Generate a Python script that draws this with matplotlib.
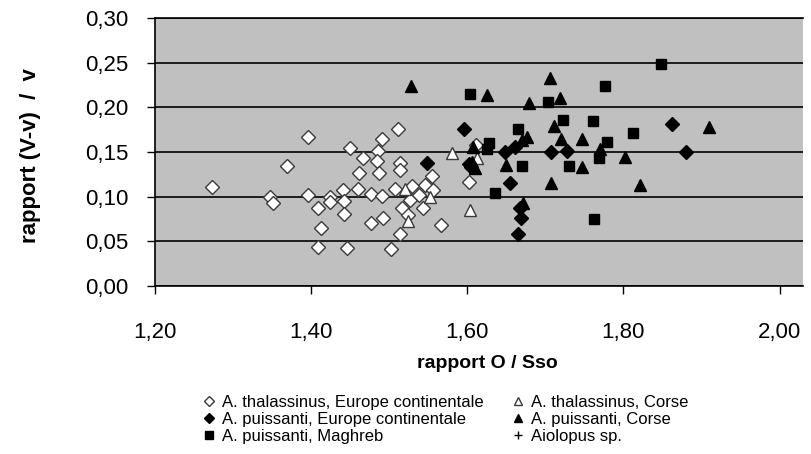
import matplotlib
matplotlib.use("Agg")
import matplotlib.pyplot as plt
from matplotlib.ticker import FuncFormatter, MultipleLocator

plt.rcParams['font.family'] = ['Liberation Sans', 'DejaVu Sans']

# A. thalassinus, Europe continentale
thal_eu_x = [1.273, 1.347, 1.351, 1.369, 1.396, 1.396, 1.409, 1.413, 1.409, 1.424,
             1.424, 1.441, 1.442, 1.442, 1.446, 1.450, 1.466, 1.461, 1.460, 1.477,
             1.477, 1.491, 1.486, 1.484, 1.487, 1.491, 1.492, 1.502, 1.511, 1.514,
             1.514, 1.507, 1.527, 1.516, 1.524, 1.514, 1.538, 1.546, 1.555, 1.543,
             1.566, 1.529, 1.556, 1.602, 1.611]
thal_eu_y = [0.111, 0.100, 0.093, 0.134, 0.167, 0.102, 0.087, 0.065, 0.044, 0.100,
             0.094, 0.108, 0.095, 0.081, 0.043, 0.155, 0.143, 0.127, 0.109, 0.103,
             0.071, 0.165, 0.151, 0.140, 0.127, 0.101, 0.076, 0.041, 0.176, 0.138,
             0.130, 0.109, 0.096, 0.087, 0.080, 0.058, 0.102, 0.113, 0.123, 0.087,
             0.068, 0.112, 0.108, 0.116, 0.158]

# A. thalassinus, Corse
thal_co_x = [1.520, 1.552, 1.524, 1.580, 1.603, 1.612]
thal_co_y = [0.109, 0.100, 0.073, 0.149, 0.085, 0.143]

# A. puissanti, Europe continentale
puis_eu_x = [1.548, 1.596, 1.602, 1.605, 1.648, 1.661, 1.655, 1.669, 1.665, 1.667,
             1.707, 1.728, 1.862, 1.880]
puis_eu_y = [0.138, 0.176, 0.137, 0.133, 0.150, 0.156, 0.115, 0.076, 0.058, 0.087,
             0.150, 0.151, 0.181, 0.150]

# A. puissanti, Corse
puis_co_x = [1.528, 1.625, 1.706, 1.679, 1.719, 1.711, 1.676, 1.720, 1.747, 1.770,
             1.802, 1.649, 1.747, 1.707, 1.821, 1.671, 1.607, 1.606, 1.610, 1.909,
             1.670]
puis_co_y = [0.224, 0.214, 0.233, 0.205, 0.211, 0.179, 0.167, 0.165, 0.165, 0.153,
             0.144, 0.135, 0.133, 0.115, 0.113, 0.093, 0.156, 0.139, 0.132, 0.178,
             0.163]

# A. puissanti, Maghreb
puis_ma_x = [1.603, 1.704, 1.777, 1.848, 1.722, 1.761, 1.665, 1.628, 1.625, 1.670,
             1.730, 1.635, 1.762, 1.812, 1.779, 1.769]
puis_ma_y = [0.215, 0.206, 0.224, 0.249, 0.186, 0.185, 0.176, 0.160, 0.153, 0.134,
             0.134, 0.104, 0.075, 0.171, 0.161, 0.143]

# Aiolopus sp. (no points visible)
aiol_x = []
aiol_y = []

x_ticks = [1.20, 1.40, 1.60, 1.80, 2.00]

W, H = 811, 454
fig = plt.figure(figsize=(W / 100, H / 100), dpi=100)
ax = fig.add_axes([155 / W, 1 - 286 / H, (803 - 155) / W, (286 - 18) / H])
ax.set_facecolor('#c0c0c0')

edge_w = '#3a3a3a'
h1, = ax.plot(thal_eu_x, thal_eu_y, 'D', ms=7.3, mfc='white', mec=edge_w, mew=1.0,
              label='A. thalassinus, Europe continentale', zorder=3)
h2, = ax.plot(puis_eu_x, puis_eu_y, 'D', ms=7.3, mfc='black', mec='black', mew=1.0,
              label='A. puissanti, Europe continentale', zorder=3)
h3, = ax.plot(puis_ma_x, puis_ma_y, 's', ms=7.8, mfc='black', mec='black', mew=1.0,
              label='A. puissanti, Maghreb', zorder=3)
h4, = ax.plot(thal_co_x, thal_co_y, '^', ms=9, mfc='white', mec=edge_w, mew=1.0,
              label='A. thalassinus, Corse', zorder=3)
h5, = ax.plot(puis_co_x, puis_co_y, '^', ms=9, mfc='black', mec='black', mew=1.0,
              label='A. puissanti, Corse', zorder=3)
h6, = ax.plot(aiol_x, aiol_y, '+', ms=9, mec='black', mew=1.0,
              label='Aiolopus sp.', zorder=3)

ax.set_xlim(1.2, 2.03)
ax.set_ylim(0, 0.30)
ax.set_xticks(x_ticks)
ax.yaxis.set_major_locator(MultipleLocator(0.05))
fmt2 = FuncFormatter(lambda v, p: f"{v:.2f}".replace('.', ','))
ax.xaxis.set_major_formatter(fmt2)
ax.yaxis.set_major_formatter(fmt2)
ax.tick_params(axis='both', labelsize=16, direction='out', length=6, width=1,
               colors='black')
ax.tick_params(axis='y', pad=13)
ax.tick_params(axis='x', pad=20)
ax.grid(axis='y', color='black', linewidth=1.2, zorder=1)
ax.set_axisbelow(True)
ax.spines['right'].set_visible(False)
for s in ['left', 'bottom', 'top']:
    ax.spines[s].set_color('black')
    ax.spines[s].set_linewidth(1.2)

ax.set_xlabel('rapport O / Sso', fontsize=14, fontweight='bold')
ax.xaxis.set_label_coords((487 - 155) / 648, (286 - 363) / 268)
ax.xaxis.label.set_va('center')
ax.set_ylabel('rapport (V-v)  /  v', fontsize=16, fontweight='bold')
ax.yaxis.set_label_coords((31 - 155) / 648, (286 - 156) / 268)
ax.yaxis.label.set_va('center')

leg_kw = dict(loc='upper left', frameon=False, fontsize=12, markerscale=0.65,
              handlelength=0.8, handletextpad=0.4, labelspacing=0.12,
              borderpad=0, borderaxespad=0)
fig.legend(handles=[h1, h2, h3], bbox_to_anchor=(202 / W, 1 - 395 / H), **leg_kw)
fig.legend(handles=[h4, h5, h6], bbox_to_anchor=(511 / W, 1 - 395 / H), **leg_kw)

fig.savefig('out.png', dpi=100)
